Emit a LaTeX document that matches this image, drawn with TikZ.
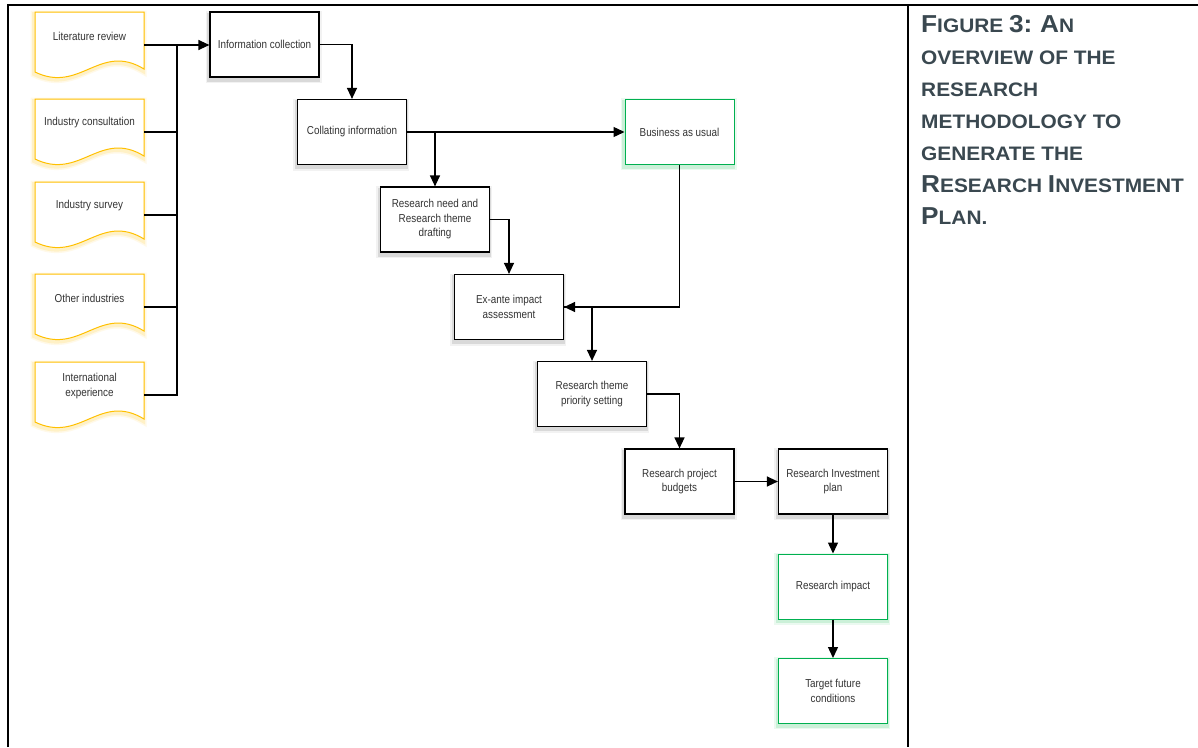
\documentclass[tikz,border=0pt]{standalone}
\usepackage{fontspec}
\setmainfont{Liberation Sans}
\newfontfamily\boxfont[FakeStretch=0.86]{Liberation Sans}
\newfontfamily\capfont[FakeStretch=1.07]{Liberation Sans}
\usetikzlibrary{arrows.meta,calc}
\definecolor{docyellow}{RGB}{255,192,0}
\definecolor{glowyellow}{RGB}{255,205,40}
\definecolor{okgreen}{RGB}{0,176,80}
\definecolor{glowgreen}{RGB}{60,200,110}
\definecolor{txtc}{RGB}{51,51,51}
\definecolor{captc}{RGB}{58,72,80}
\newcommand{\BC}[1]{{\fontsize{24.5}{32}\selectfont #1}}
\tikzset{
  glowA/.style={
    preaction={draw=#1, line width=7pt, opacity=0.10, transform canvas={xshift=-1pt,yshift=-2pt}},
    preaction={draw=#1, line width=4pt, opacity=0.18, transform canvas={xshift=-1pt,yshift=-2pt}}},
  shadowA/.style={
    preaction={draw=#1, line width=7pt, opacity=0.05, transform canvas={xshift=-1pt,yshift=-2.5pt}},
    preaction={draw=#1, line width=4pt, opacity=0.10, transform canvas={xshift=-1pt,yshift=-2.5pt}}},
  procbox/.style={rectangle, draw=black, line width=1.2pt, fill=white,
    minimum width=109pt, minimum height=65pt, inner sep=2pt, align=center,
    text=txtc, font=\boxfont\fontsize{11.5}{14.5}\selectfont, shadowA=black},
  greenbox/.style={rectangle, draw=okgreen, line width=1pt, fill=white,
    minimum width=109pt, minimum height=65pt, inner sep=2pt, align=center,
    text=txtc, font=\boxfont\fontsize{11.5}{14.5}\selectfont, glowA=glowgreen},
  docshape/.style={draw=docyellow, line width=1pt, fill=white, glowA=glowyellow},
  doctext/.style={rectangle, minimum width=109pt, inner sep=0pt, align=center,
    text=txtc, font=\boxfont\fontsize{11.5}{14.5}\selectfont},
  conn/.style={line width=1.3pt, draw=black},
  arr/.style={conn, -{Triangle[length=11pt,width=10pt]}},
  frame/.style={line width=2.2pt, draw=black},
}
\newcommand{\docnode}[4]{%
  \begin{scope}[shift={(#2,#3)}]
    \path[docshape] (0,0) -- (109,0) -- (109,57) .. controls (65,30) and (45,82) .. (0,60) -- cycle;
    \node[doctext] (#1) at (54.5,24) {#4};
    \coordinate (#1-out) at (109,33);
  \end{scope}}
\begin{document}
\begin{tikzpicture}[x=1pt,y=-1pt]
\useasboundingbox (0,0) rectangle (1198,747);
\fill[white] (0,0) rectangle (1198,747);

% document sources
\docnode{lit}{35}{12}{Literature review}
\docnode{cons}{35}{99}{Industry consultation}
\docnode{surv}{35}{182}{Industry survey}
\docnode{oth}{35}{274}{Other industries}
\docnode{intl}{35}{362}{International\\experience}

% process boxes
\node[procbox] (info) at (264.5,44.5) {Information collection};
\node[procbox] (coll) at (352,132) {Collating information};
\node[greenbox] (bau) at (679.5,132) {Business as usual};
\node[procbox] (need) at (435,219.5) {Research need and\\Research theme\\drafting};
\node[procbox] (exante) at (509,307) {Ex-ante impact\\assessment};
\node[procbox] (prio) at (592,394) {Research theme\\priority setting};
\node[procbox] (budg) at (679.5,481.5) {Research project\\budgets};
\node[procbox] (rip) at (833,481.5) {Research Investment\\plan};
\node[greenbox] (impact) at (833,586.5) {Research impact};
\node[greenbox] (target) at (833,691) {Target future\\conditions};

% bus
\coordinate (bus) at (177,45);
\draw[arr] (lit-out) -- (lit-out -| info.west);
\draw[conn] (cons-out) -- (cons-out -| bus);
\draw[conn] (surv-out) -- (surv-out -| bus);
\draw[conn] (oth-out) -- (oth-out -| bus);
\draw[conn] (intl-out) -| (bus);

% flow
\draw[arr] (info.east) -| (coll.north);
\draw[arr] (coll.east) -- (bau.west);
\draw[arr] (coll.east -| need.north) -- (need.north);
\draw[arr] (need.east) -| (exante.north);
\draw[arr] (bau.south) |- (exante.east);
\draw[arr] (exante.east) -| (prio.north);
\draw[arr] (prio.east) -| (budg.north);
\draw[arr] (budg.east) -- (rip.west);
\draw[arr] (rip.south) -- (impact.north);
\draw[arr] (impact.south) -- (target.north);

% caption
\node[anchor=north west, inner sep=0pt, align=left, text=captc,
  font=\capfont\bfseries\fontsize{19.5}{32}\selectfont] (cap) at (921,15.5)
  {\BC{F}IGURE \BC{3:} \BC{A}N\\OVERVIEW OF THE\\RESEARCH\\METHODOLOGY TO\\GENERATE THE\\\BC{R}ESEARCH \BC{I}NVESTMENT\\\BC{P}LAN.};

% frame
\draw[frame] (8,747) -- (8,5) -- (1198,5);
\draw[frame] (908,5) -- (908,747);
\end{tikzpicture}
\end{document}
